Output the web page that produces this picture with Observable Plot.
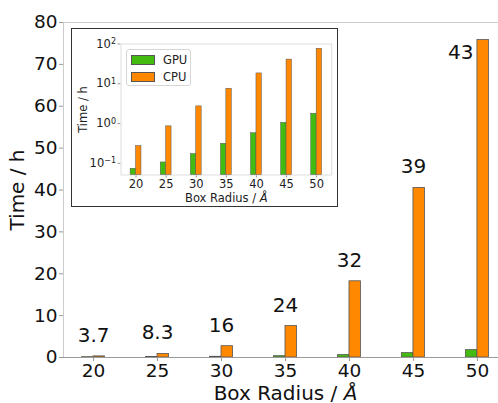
<!DOCTYPE html>
<html>
<head>
<meta charset="utf-8">
<script src="https://cdn.jsdelivr.net/npm/d3@7"></script>
<script src="https://cdn.jsdelivr.net/npm/@observablehq/plot@0.6"></script>
<style>
  html, body { margin: 0; padding: 0; background: #fff; overflow: hidden; }
  #wrap { position: relative; width: 498px; height: 403px; overflow: hidden; font-family: "DejaVu Sans", sans-serif; }
  #main { position: absolute; left: 0; top: 0; width: 507px; }
  #main svg { max-width: none !important; width: 507px; height: 403px; }
  #inset { position: absolute; left: 71px; top: 28px; width: 265px; height: 177px; border: 1.5px solid #333; background: #fff; }
  #inset svg { position: absolute; left: 0; top: 0; max-width: none !important; }
  #legend { position: absolute; left: 54px; top: 20px; width: 63px; height: 35px; border: 1px solid #d6d6d6; border-radius: 3px; background: rgba(255,255,255,0.85); font-size: 11.5px; color: #222; }
  .item { position: absolute; left: 4px; height: 10px; display: flex; align-items: center; }
  .sw { width: 24px; height: 10px; box-sizing: border-box; border: 0.8px solid #555; margin-right: 8px; }
</style>
</head>
<body>
<div id="wrap">
  <div id="main"></div>
  <div id="inset"><div id="legend"></div></div>
</div>
<script>
// ---- data ----
const radii = [20, 25, 30, 35, 40, 45, 50];
const gpuHours = [0.073, 0.105, 0.17, 0.31, 0.57, 1.04, 1.76];
const cpuHours = [0.27, 0.85, 2.7, 7.5, 18.2, 40.5, 75.8];
const speedupLabels = ["3.7", "8.3", "16", "24", "32", "39", "43"];
const devices = ["GPU", "CPU"];
const deviceColors = ["#44bb11", "#ff8800"];
const mainYTicks = [0, 10, 20, 30, 40, 50, 60, 70, 80];
const logTicks = [0.1, 1, 10, 100];
const logTickExponents = ["−1", "0", "1", "2"];

// ---- tables ----
const rows = radii.flatMap((r, i) => [
  {r, device: "GPU", hours: gpuHours[i]},
  {r, device: "CPU", hours: cpuHours[i]}
]);
const labels = radii.map((r, i) => ({r, cpu: cpuHours[i], text: speedupLabels[i]}));

const half = 0.9; // bar width in radius units
const bx1 = d => d.device === "GPU" ? d.r - half : d.r;
const bx2 = d => d.device === "GPU" ? d.r : d.r + half;
const color = {domain: devices, range: deviceColors};

function tidy(svg, bigLabels, bigSize) {
  svg.querySelectorAll("text").forEach(t => {
    const s = t.textContent;
    if (/[↑→↓←]/.test(s)) t.textContent = s.replace(/\s*[↑→↓←]\s*/g, "");
  });
  svg.querySelectorAll("text").forEach(t => {
    const s = t.textContent;
    if (bigLabels.includes(s)) {
      t.setAttribute("font-size", bigSize);
      t.style.fontSize = bigSize + "px";
      if (s.startsWith("Box Radius")) {
        t.innerHTML = 'Box Radius / <tspan font-style="italic">Å</tspan>';
      }
    }
    const m = /^10\^(.+)$/.exec(s);
    if (m) {
      t.innerHTML = '10<tspan dy="-0.45em" font-size="8px">' + m[1] + '</tspan>';
    }
  });
  svg.querySelectorAll('[stroke="currentColor"]').forEach(e => {
    if (e.tagName !== "text") e.setAttribute("stroke", "#999");
  });
}

// ---- main chart ----
const main = Plot.plot({
  width: 507,
  height: 403,
  marginLeft: 63,
  marginRight: 0,
  marginTop: 22,
  marginBottom: 46,
  style: {fontFamily: "DejaVu Sans", fontSize: "18.5px", color: "#111", background: "transparent", overflow: "visible"},
  x: {domain: [17.65, 52.35], ticks: radii, tickFormat: d => String(d), tickSize: 4, tickPadding: 2,
      label: "Box Radius / Å", labelAnchor: "center", labelOffset: 42},
  y: {domain: [0, 80], ticks: mainYTicks, tickSize: 4, tickPadding: 2,
      label: "Time / h", labelAnchor: "center", labelOffset: 54},
  color,
  marks: [
    Plot.frame({stroke: "#cccccc"}),
    Plot.rectY(rows, {x1: bx1, x2: bx2, y: "hours", fill: "device", stroke: "#555", strokeWidth: 0.8}),
    Plot.ruleY([0], {stroke: "#999"}),
    Plot.text(labels.slice(0, 6), {x: "r", y: "cpu", text: "text", dy: -21, fontSize: 20, fill: "#111"}),
    Plot.text(labels.slice(6), {x: "r", y: "cpu", text: "text", dy: 13, dx: -4, textAnchor: "end", fontSize: 20, fill: "#111"})
  ]
});
document.getElementById("main").appendChild(main);
tidy(main, ["Time / h", "Box Radius / Å"], 20);

// ---- inset (log scale) ----
const yMin = 0.0508;
const inset = Plot.plot({
  width: 265,
  height: 177,
  marginLeft: 48.5,
  marginRight: 5.8,
  marginTop: 14.5,
  marginBottom: 31.5,
  style: {fontFamily: "DejaVu Sans", fontSize: "11.5px", color: "#222", background: "transparent", overflow: "visible"},
  x: {domain: [17.5, 52.5], ticks: radii, tickFormat: d => String(d), tickSize: 3, tickPadding: 2,
      label: "Box Radius / Å", labelAnchor: "center", labelOffset: 27},
  y: {type: "log", domain: [yMin, 100], ticks: logTicks,
      tickFormat: d => "10^" + logTickExponents[logTicks.indexOf(d)],
      tickSize: 3, tickPadding: 2, label: "Time / h", labelAnchor: "center", labelOffset: 42},
  color,
  marks: [
    Plot.frame({stroke: "#dddddd"}),
    Plot.rectY(rows, {x1: bx1, x2: bx2, y1: () => yMin, y2: "hours", fill: "device", stroke: "#555", strokeWidth: 0.5})
  ]
});
document.getElementById("inset").insertBefore(inset, document.getElementById("legend"));
tidy(inset, ["Time / h", "Box Radius / Å"], 11.5);

// ---- legend ----
const lg = document.getElementById("legend");
devices.forEach((name, i) => {
  const item = document.createElement("div");
  item.className = "item";
  item.style.top = (5 + i * 17) + "px";
  const sw = document.createElement("div");
  sw.className = "sw";
  sw.style.background = deviceColors[i];
  const tx = document.createElement("span");
  tx.textContent = name;
  item.appendChild(sw);
  item.appendChild(tx);
  lg.appendChild(item);
});
</script>
</body>
</html>
